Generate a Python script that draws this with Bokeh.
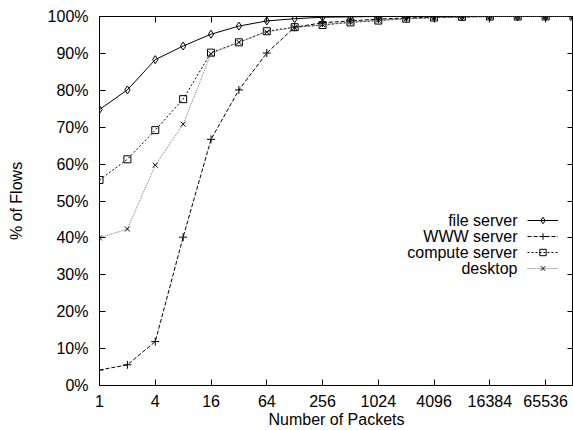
from bokeh.plotting import figure
from bokeh.models import (FixedTicker, LogAxis, LinearAxis, Legend, LegendItem, Label)
from bokeh.embed import file_html
from bokeh.resources import INLINE

# ---- data ----
packets = [1, 2, 4, 8, 16, 32, 64, 128, 256, 512, 1024, 2048, 4096, 8192,
           16384, 32768, 65536, 131072]
file_server = [74.8, 80.1, 88.3, 92.0, 95.2, 97.4, 98.8, 99.4, 99.8, 99.9,
               100, 100, 100, 100, 100, 100, 100, 100]
www_server = [4.2, 5.6, 11.9, 40.2, 66.7, 80.1, 90.1, 97.1, 98.3, 98.8,
              99.3, 99.6, 99.8, 99.9, 100, 100, 100, 100]
compute_server = [55.7, 61.3, 69.2, 77.6, 90.2, 93.0, 96.0, 97.1, 97.7, 98.4,
                  98.9, 99.4, 99.7, 99.9, 100, 100, 100, 100]
desktop = [40.0, 42.4, 59.7, 70.8, 89.9, 93.0, 95.8, 97.0, 97.8, 98.5,
           99.0, 99.4, 99.7, 99.9, 100, 100, 100, 100]

series_names = ["file server", "WWW server", "compute server", "desktop"]
x_ticks = [1, 4, 16, 64, 256, 1024, 4096, 16384, 65536]
x_tick_labels = ["1", "4", "16", "64", "256", "1024", "4096", "16384", "65536"]
y_ticks = [0, 10, 20, 30, 40, 50, 60, 70, 80, 90, 100]
y_tick_labels = ["0%", "10%", "20%", "30%", "40%", "50%", "60%", "70%", "80%", "90%", "100%"]

FONT = "Liberation Sans"
FS = "16px"

p = figure(width=573, height=430, x_axis_type="log",
           x_range=(1, 131072), y_range=(0, 100),
           output_backend="svg", toolbar_location=None,
           min_border_left=99, min_border_right=0,
           min_border_top=16, min_border_bottom=45)
p.background_fill_color = "white"
p.border_fill_color = "white"
p.outline_line_color = "black"
p.outline_line_width = 1
p.grid.visible = False

styles = [
    dict(color="black", dash="solid", marker="diamond", msize=8),
    dict(color="black", dash="4 2", marker="cross", msize=8),
    dict(color="black", dash="2 2", marker="square", msize=7),
    dict(color="#777777", dash="1 1", marker="x", msize=7),
]
data = [file_server, www_server, compute_server, desktop]

items = []
for name, ys, st in zip(series_names, data, styles):
    ln = p.line(packets, ys, line_color=st["color"], line_dash=st["dash"], line_width=1)
    sc = p.scatter(packets, ys, marker=st["marker"], size=st["msize"],
                   line_color="black", fill_color=None, line_width=1)
    items.append(LegendItem(label=" ", renderers=[ln, sc]))

# legend samples only; the names are drawn to their left, as in the original
legend = Legend(items=items, location=(428, 109), glyph_width=31, glyph_height=16,
                label_height=16, spacing=0, padding=0, margin=0, label_standoff=0,
                background_fill_alpha=0, border_line_color=None,
                label_text_font=FONT, label_text_font_size=FS, label_text_color=None)
p.add_layout(legend, "center")

for i, name in enumerate(series_names):
    p.add_layout(Label(x=418, y=165 - 16 * i, x_units="screen", y_units="screen",
                       text=name, text_align="right", text_baseline="middle",
                       text_font=FONT, text_font_size=FS, text_color="black"))

# bottom axis
xa = p.xaxis[0]
xa.ticker = FixedTicker(ticks=x_ticks)
xa.major_label_overrides = {t: l for t, l in zip(x_ticks, x_tick_labels)}
xa.axis_label = "Number of Packets"
# left axis
ya = p.yaxis[0]
ya.ticker = FixedTicker(ticks=y_ticks)
ya.major_label_overrides = {t: l for t, l in zip(y_ticks, y_tick_labels)}
ya.axis_label = "% of Flows"

for ax in (xa, ya):
    ax.major_tick_in = 6
    ax.major_tick_out = 0
    ax.minor_tick_line_color = None
    ax.axis_line_color = "black"
    ax.major_tick_line_color = "black"
    ax.major_label_text_font = FONT
    ax.major_label_text_font_size = FS
    ax.major_label_text_color = "black"
    ax.axis_label_text_font = FONT
    ax.axis_label_text_font_size = FS
    ax.axis_label_text_font_style = "normal"
    ax.axis_label_text_color = "black"
xa.major_label_standoff = 9
xa.axis_label_standoff = 1
ya.major_label_standoff = 11
ya.axis_label_standoff = 20

# mirrored ticks (top, right), labels not drawn
top = LogAxis(ticker=FixedTicker(ticks=x_ticks), major_tick_in=6, major_tick_out=0,
              minor_tick_line_color=None, major_label_text_font_size="1px",
              major_label_text_color=None, major_label_standoff=0, axis_line_color=None)
right = LinearAxis(ticker=FixedTicker(ticks=y_ticks), major_tick_in=6, major_tick_out=0,
                   minor_tick_line_color=None, major_label_text_font_size="1px",
                   major_label_text_color=None, major_label_standoff=0, axis_line_color=None)
p.add_layout(top, "above")
p.add_layout(right, "right")

open("out.html", "w").write(file_html(p, INLINE))
